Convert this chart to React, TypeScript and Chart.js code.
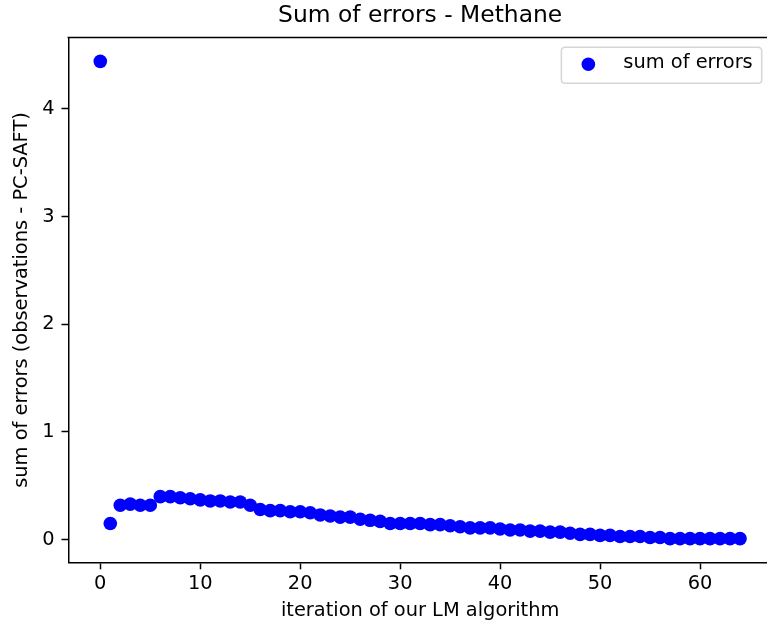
import React, { useEffect, useRef } from "react";
import { Chart, registerables } from "chart.js";

Chart.register(...registerables);

// ---- data ----
const chartTitle = "Sum of errors - Methane";
const xLabel = "iteration of our LM algorithm";
const yLabel = "sum of errors (observations - PC-SAFT)";
const seriesLabel = "sum of errors";

const iterations = [
  0, 1, 2, 3, 4, 5, 6, 7, 8, 9, 10, 11, 12, 13, 14, 15, 16, 17, 18, 19, 20,
  21, 22, 23, 24, 25, 26, 27, 28, 29, 30, 31, 32, 33, 34, 35, 36, 37, 38, 39,
  40, 41, 42, 43, 44, 45, 46, 47, 48, 49, 50, 51, 52, 53, 54, 55, 56, 57, 58,
  59, 60, 61, 62, 63, 64,
];

const sumOfErrors = [
  4.44, 0.15, 0.32, 0.33, 0.32, 0.32, 0.4, 0.4, 0.39, 0.38, 0.37, 0.36, 0.36,
  0.35, 0.35, 0.32, 0.28, 0.27, 0.27, 0.26, 0.26, 0.25, 0.23, 0.22, 0.21, 0.21,
  0.19, 0.18, 0.17, 0.15, 0.15, 0.15, 0.15, 0.14, 0.14, 0.13, 0.12, 0.11, 0.11,
  0.11, 0.1, 0.09, 0.09, 0.08, 0.08, 0.07, 0.07, 0.06, 0.05, 0.05, 0.04, 0.04,
  0.03, 0.03, 0.03, 0.02, 0.02, 0.01, 0.01, 0.01, 0.01, 0.01, 0.01, 0.01, 0.01,
];

const xTicks = [0, 10, 20, 30, 40, 50, 60];
const yTicks = [0, 1, 2, 3, 4];

// ---- styling ----
const FONT = "'DejaVu Sans', sans-serif";
const CANVAS_W = 790;
const CANVAS_H = 628;
const MARKER_R = 6.8;
const BLUE = "#0000ff";
const LABEL_SIZE = 19.4;
const TITLE_SIZE = 23.4;
const SPINE_W = 1.5;
const TICK_LEN = 6.8;

function paddedRange(values: number[]): [number, number] {
  const mn = Math.min(...values);
  const mx = Math.max(...values);
  const r = mx - mn;
  return [mn - 0.05 * r, mx + 0.05 * r];
}

const framePlugin = {
  id: "mplFrame",
  afterDraw(chart: any) {
    const { ctx, chartArea: a } = chart;
    ctx.save();
    ctx.strokeStyle = "#000";
    ctx.lineWidth = SPINE_W;
    ctx.lineCap = "square";
    ctx.beginPath();
    ctx.moveTo(a.left, a.top);
    ctx.lineTo(a.right, a.top);
    ctx.lineTo(a.right, a.bottom);
    ctx.stroke();
    ctx.restore();
  },
};

const legendPlugin = {
  id: "mplLegend",
  afterDraw(chart: any) {
    const { ctx, chartArea: a } = chart;
    ctx.save();
    ctx.font = `${LABEL_SIZE}px ${FONT}`;
    const tw = ctx.measureText(seriesLabel).width;
    const right = a.right - 10.3;
    const top = a.top + 9.8;
    const w = tw + 71;
    const h = 36;
    const left = right - w;
    const r = 3.9;
    ctx.beginPath();
    ctx.moveTo(left + r, top);
    ctx.lineTo(left + w - r, top);
    ctx.quadraticCurveTo(left + w, top, left + w, top + r);
    ctx.lineTo(left + w, top + h - r);
    ctx.quadraticCurveTo(left + w, top + h, left + w - r, top + h);
    ctx.lineTo(left + r, top + h);
    ctx.quadraticCurveTo(left, top + h, left, top + h - r);
    ctx.lineTo(left, top + r);
    ctx.quadraticCurveTo(left, top, left + r, top);
    ctx.closePath();
    ctx.fillStyle = "rgba(255,255,255,0.8)";
    ctx.fill();
    ctx.strokeStyle = "rgba(204,204,204,0.8)";
    ctx.lineWidth = 1.5;
    ctx.stroke();

    ctx.beginPath();
    ctx.arc(left + 27, top + 17, MARKER_R, 0, Math.PI * 2);
    ctx.fillStyle = BLUE;
    ctx.fill();

    ctx.fillStyle = "#000";
    ctx.textBaseline = "middle";
    ctx.textAlign = "left";
    ctx.fillText(seriesLabel, left + 62, top + 15.8);
    ctx.restore();
  },
};

export default function App() {
  const canvasRef = useRef<HTMLCanvasElement | null>(null);

  useEffect(() => {
    const canvas = canvasRef.current;
    if (!canvas) return;
    const xr = paddedRange(iterations);
    const yr = paddedRange(sumOfErrors);
    const tickFont = { family: FONT, size: LABEL_SIZE, lineHeight: 1.2 };
    const gridOpts = {
      drawOnChartArea: false,
      drawTicks: true,
      tickLength: TICK_LEN,
      tickColor: "#000",
      tickWidth: SPINE_W,
    };
    const chart = new Chart(canvas, {
      type: "scatter",
      data: {
        datasets: [
          {
            label: seriesLabel,
            data: iterations.map((x, i) => ({ x, y: sumOfErrors[i] })),
            backgroundColor: BLUE,
            borderColor: BLUE,
            borderWidth: 0,
            pointRadius: MARKER_R,
            pointHoverRadius: MARKER_R,
          },
        ],
      },
      options: {
        responsive: false,
        animation: false,
        devicePixelRatio: 1,
        events: [],
        layout: { padding: { left: 0, right: CANVAS_W - 772, top: 0, bottom: 0 } },
        plugins: {
          legend: { display: false },
          tooltip: { enabled: false },
          title: {
            display: true,
            fullSize: false,
            text: chartTitle,
            color: "#000",
            font: { family: FONT, size: TITLE_SIZE, weight: "normal", lineHeight: 1.2 },
            padding: { top: 1.9, bottom: 7.5 },
          },
        },
        scales: {
          x: {
            type: "linear",
            min: xr[0],
            max: xr[1],
            afterBuildTicks: (s: any) => {
              s.ticks = xTicks.map((v) => ({ value: v }));
            },
            afterFit: (s: any) => {
              s.height = 65.5;
            },
            grid: gridOpts,
            border: { display: true, color: "#000", width: SPINE_W },
            ticks: {
              color: "#000",
              font: tickFont,
              padding: 3.2,
              maxRotation: 0,
              autoSkip: false,
            },
            title: {
              display: true,
              text: xLabel,
              color: "#000",
              font: { family: FONT, size: LABEL_SIZE, lineHeight: 1.2 },
              padding: { top: 0, bottom: 5.2 },
            },
          },
          y: {
            type: "linear",
            min: yr[0],
            max: yr[1],
            afterBuildTicks: (s: any) => {
              s.ticks = yTicks.map((v) => ({ value: v }));
            },
            afterFit: (s: any) => {
              s.width = 68.3;
            },
            grid: gridOpts,
            border: { display: true, color: "#000", width: SPINE_W },
            ticks: {
              color: "#000",
              font: tickFont,
              padding: 6.8,
              autoSkip: false,
            },
            title: {
              display: true,
              text: yLabel,
              color: "#000",
              font: { family: FONT, size: LABEL_SIZE, lineHeight: 1.2 },
              padding: { top: 10.2, bottom: 0 },
            },
          },
        },
      },
      plugins: [framePlugin, legendPlugin],
    } as any);
    return () => chart.destroy();
  }, []);

  return (
    <div
      style={{
        position: "fixed",
        left: 0,
        top: 0,
        width: 767,
        height: 628,
        overflow: "hidden",
        background: "#fff",
      }}
    >
      <canvas
        ref={canvasRef}
        width={CANVAS_W}
        height={CANVAS_H}
        style={{ width: CANVAS_W, height: CANVAS_H, display: "block" }}
      />
    </div>
  );
}
